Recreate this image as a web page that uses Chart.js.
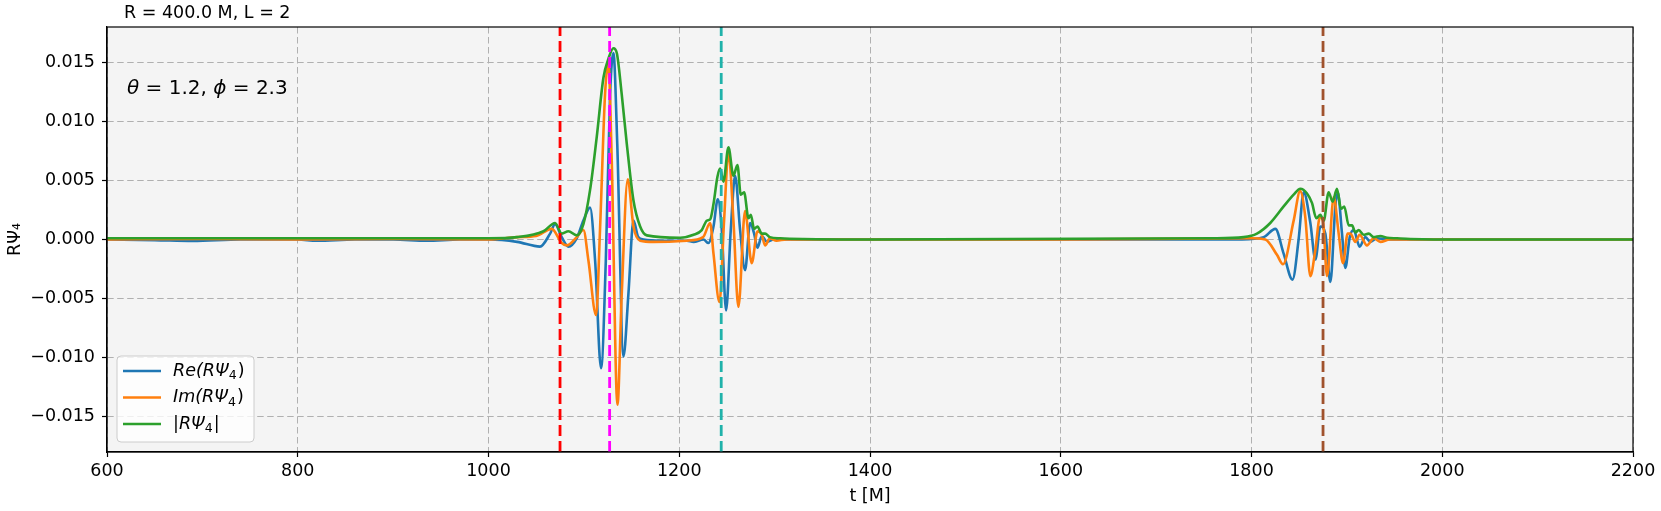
<!DOCTYPE html>
<html>
<head>
<meta charset="utf-8">
<script src="https://cdn.jsdelivr.net/npm/chart.js@4.4.1/dist/chart.umd.min.js"></script>
<style>
  html, body { margin: 0; padding: 0; background: #fff; }
  canvas { display: block; }
</style>
</head>
<body>
<canvas id="myChart" width="1661" height="511"></canvas>
<script>
// Re(R Psi4)
const reT = [600, 650, 690, 740, 800, 820, 860, 900, 935, 970, 1000, 1030, 1054, 1064.6, 1069.8, 1076.8, 1083.8, 1092.5, 1099.5, 1106.5, 1111.8, 1118, 1123, 1127.5, 1131, 1135, 1141.5, 1146.7, 1152, 1157, 1162.5, 1180, 1208, 1215, 1225.4, 1230.6, 1235.9, 1240.4, 1244.6, 1249.1, 1254, 1258.6, 1263.8, 1269, 1274.3, 1278.5, 1282, 1286.5, 1292, 1299, 1320, 1600, 1790, 1812.7, 1825, 1833.7, 1843, 1849.4, 1854.7, 1861.7, 1867, 1872.2, 1877.4, 1882.7, 1887.9, 1890.4, 1894.9, 1898.4, 1903, 1907.1, 1913.4, 1919.4, 1924.6, 1931.6, 1945, 2200];
const reV = [0, -0.00005, -0.00012, 0, 0, -0.0001, 0, 0, -0.0001, 0, 0, -0.0002, -0.0006, 0.0005, 0.0013, 0.0002, -0.0006, 0.0001, 0.0016, 0.0027, -0.0018, -0.0109, -0.0018, 0.0123, 0.0158, 0.0081, -0.0099, -0.0046, 0.0016, 0.0002, 0, -0.0001, -0.0001, -0.0002, 0, -0.0003, 0.0011, 0.0034, 0.0008, -0.006, 0.0008, 0.0054, 0.0008, -0.0026, 0.0014, 0.0005, -0.0007, 0.0003, -0.0002, 0, 0, 0, 0, 0.0002, 0.0009, -0.0012, -0.0034, 0, 0.004, 0.0014, -0.0017, 0.0011, 0.0005, -0.0036, 0.0028, 0.004, 0.0005, -0.0024, 0.0002, 0.0008, -0.0006, 0.0002, -0.0002, 0.0001, 0, 0];

// Im(R Psi4)
const imT = [600, 700, 800, 900, 1000, 1030, 1050, 1066.3, 1076.8, 1082, 1092.5, 1099.5, 1104.8, 1112.8, 1117, 1122.2, 1125.7, 1129.2, 1135.2, 1139.7, 1146, 1152, 1159, 1173, 1208, 1225, 1232.4, 1235.9, 1242.2, 1247, 1251.6, 1256.8, 1262, 1269, 1276, 1282, 1286.5, 1290, 1295, 1302, 1312, 1600, 1800, 1814.5, 1826.7, 1833, 1844.2, 1851, 1856.4, 1861.7, 1866.9, 1871.8, 1875, 1879.2, 1886.2, 1891.4, 1896, 1900.8, 1903.6, 1908.9, 1913.4, 1921.1, 1928.1, 1935.1, 1945, 2200];
const imV = [0, 0.00005, 0, 0.00005, 0, 0.0002, 0.0003, 0.0009, -0.0003, -0.0005, 0.0002, 0.0008, -0.0018, -0.0064, 0.001, 0.0123, 0.0149, 0.0067, -0.014, -0.0046, 0.0051, 0.0011, -0.0001, -0.0002, -0.0001, 0.0002, 0.0014, -0.0012, -0.0053, 0.0016, 0.0074, 0.0016, -0.0057, 0.0024, -0.002, 0.0007, 0.0004, -0.0005, 0.0001, -0.0001, 0, 0, 0.0001, 0, -0.0013, -0.0021, 0.0016, 0.0041, 0.0019, -0.0031, -0.0009, 0.0019, 0.0015, -0.0031, 0.0036, 0.0005, -0.002, 0.0005, 0.0005, -0.0002, 0.0004, -0.0005, 0.0001, -0.0002, 0, 0];

// |R Psi4|
const absT = [600, 1000, 1030, 1057.6, 1069.8, 1076.8, 1083.8, 1092.5, 1099.5, 1106.5, 1113.5, 1120.5, 1125.7, 1131, 1134.5, 1139.7, 1145, 1152, 1159, 1166, 1201, 1215, 1223.6, 1229, 1232.4, 1235.9, 1240, 1242.9, 1246.3, 1251.6, 1256.8, 1261, 1264.5, 1268, 1272.6, 1275, 1278.5, 1282, 1286.5, 1290, 1295, 1306, 1330, 1400, 1760, 1791.8, 1805.7, 1819.7, 1833.7, 1844.2, 1851.2, 1858.2, 1863.4, 1868, 1872.2, 1875.7, 1880.9, 1885.1, 1889.6, 1893.9, 1897.3, 1901.9, 1905.4, 1908.9, 1912.4, 1917.6, 1922.9, 1928.1, 1935.1, 1942.1, 1952.6, 1966.6, 1991, 2200];
const absV = [0.0001, 0.0001, 0.0002, 0.0007, 0.0014, 0.0005, 0.0007, 0.00035, 0.0013, 0.0042, 0.0087, 0.0137, 0.0153, 0.0162, 0.0158, 0.0123, 0.0081, 0.0033, 0.0011, 0.00035, 0.00015, 0.0004, 0.0008, 0.0016, 0.0017, 0.003, 0.0053, 0.006, 0.0049, 0.0078, 0.0054, 0.0063, 0.0038, 0.004, 0.0018, 0.0021, 0.0009, 0.0011, 0.0005, 0.0005, 0.0002, 0.0001, 0.00004, 0, 0.0001, 0.0002, 0.0005, 0.0014, 0.0028, 0.0038, 0.0043, 0.0039, 0.0031, 0.0018, 0.0021, 0.0016, 0.004, 0.0032, 0.0043, 0.0026, 0.0028, 0.0012, 0.0012, 0.0006, 0.0008, 0.0004, 0.0005, 0.0002, 0.0003, 0.00015, 0.0001, 0.00004, 0, 0];

// vertical markers
const markerTimes = [1075, 1127, 1244, 1875];
const markerColors = ['#ff0000', '#ff00ff', '#20b2aa', '#a0522d'];

const xTicks = [600, 800, 1000, 1200, 1400, 1600, 1800, 2000, 2200];
const yTicks = [-0.015, -0.01, -0.005, 0, 0.005, 0.01, 0.015];
const yMin = -0.018, yMax = 0.018;

const plotTitle = 'R = 400.0 M, L = 2';
const legendNames = [['Re(RΨ', '4', ')'], ['Im(RΨ', '4', ')'], ['|RΨ', '4', '|']];
const seriesColors = ['#1f77b4', '#ff7f0e', '#2ca02c'];

Chart.defaults.font.family = '"DejaVu Sans"';
Chart.defaults.font.size = 17.5;

const pairs = (ts, vs) => ts.map((t, i) => ({x: t, y: vs[i]}));

function drawRuns(ctx, runs, x, y, size) {
  runs.forEach(r => {
    ctx.font = (r.i ? 'italic ' : '') + size + 'px "DejaVu Sans"';
    ctx.fillText(r.t, x, y);
    x += ctx.measureText(r.t).width;
  });
}

const framePlugin = {
  id: 'frame',
  beforeDraw(chart) {
    const {ctx, chartArea: a} = chart;
    ctx.save();
    ctx.fillStyle = '#fff';
    ctx.fillRect(0, 0, chart.width, chart.height);
    ctx.fillStyle = '#f4f4f4';
    ctx.fillRect(a.left, a.top, a.right - a.left, a.bottom - a.top);
    ctx.restore();
  },
  afterDraw(chart) {
    const {ctx, chartArea: a} = chart;
    ctx.save();
    ctx.strokeStyle = '#000';
    ctx.lineWidth = 1.2;
    ctx.strokeRect(a.left, a.top, a.right - a.left, a.bottom - a.top);

    ctx.fillStyle = '#000';
    ctx.textBaseline = 'middle';
    ctx.font = '17.5px "DejaVu Sans"';
    ctx.fillText(plotTitle, a.left + 17, 13);

    drawRuns(ctx, [{t: 'θ', i: true}, {t: ' = 1.2, '}, {t: 'ϕ', i: true}, {t: ' = 2.3'}], a.left + 20, a.top + 62, 20);

    // legend box
    const bx = a.left + 10, by = a.bottom - 96, bw = 137, bh = 86;
    ctx.beginPath();
    ctx.roundRect(bx, by, bw, bh, 4);
    ctx.fillStyle = 'rgba(255,255,255,0.8)';
    ctx.fill();
    ctx.strokeStyle = '#cccccc';
    ctx.lineWidth = 1;
    ctx.stroke();
    legendNames.forEach((parts, i) => {
      const ly = by + 15 + i * 26.5;
      ctx.strokeStyle = seriesColors[i];
      ctx.lineWidth = 2.6;
      ctx.beginPath();
      ctx.moveTo(bx + 6, ly);
      ctx.lineTo(bx + 44, ly);
      ctx.stroke();
      ctx.fillStyle = '#000';
      let tx = bx + 56;
      ctx.font = 'italic 17.5px "DejaVu Sans"';
      ctx.fillText(parts[0], tx, ly);
      tx += ctx.measureText(parts[0]).width;
      ctx.font = '12.5px "DejaVu Sans"';
      ctx.fillText(parts[1], tx, ly + 5);
      tx += ctx.measureText(parts[1]).width + 1;
      ctx.font = '17.5px "DejaVu Sans"';
      ctx.fillText(parts[2], tx, ly);
    });
    ctx.restore();
  }
};

const markerSets = markerTimes.map((t, i) => ({
  data: [{x: t, y: yMin}, {x: t, y: yMax}],
  borderColor: markerColors[i],
  borderWidth: 2.8,
  borderDash: [11, 5],
  order: 0
}));

const ctx = document.getElementById('myChart').getContext('2d');
new Chart(ctx, {
  type: 'line',
  data: {
    datasets: [
      ...markerSets,
      { label: '|RΨ4|', data: pairs(absT, absV), borderColor: seriesColors[2], borderWidth: 2.6, cubicInterpolationMode: 'monotone', order: 1 },
      { label: 'Im(RΨ4)', data: pairs(imT, imV), borderColor: seriesColors[1], borderWidth: 2.6, cubicInterpolationMode: 'monotone', order: 2 },
      { label: 'Re(RΨ4)', data: pairs(reT, reV), borderColor: seriesColors[0], borderWidth: 2.6, cubicInterpolationMode: 'monotone', order: 3 }
    ]
  },
  options: {
    responsive: false,
    animation: false,
    devicePixelRatio: 1,
    layout: { padding: { left: 0, right: 28, top: 27, bottom: 0 } },
    elements: { point: { radius: 0 }, line: { fill: false } },
    plugins: { legend: { display: false }, tooltip: { enabled: false }, title: { display: false } },
    scales: {
      x: {
        type: 'linear', min: xTicks[0], max: xTicks[xTicks.length - 1],
        afterFit: s => { s.height = 59; },
        afterBuildTicks: s => { s.ticks = xTicks.map(v => ({value: v})); },
        ticks: { color: '#000', padding: 4, maxRotation: 0, autoSkip: false, callback: v => String(v) },
        grid: { color: '#b0b0b0', lineWidth: 1, tickLength: 5, tickColor: '#000', tickWidth: 1.2 },
        border: { color: '#000', width: 1.2, dash: [6.5, 3.5] },
        title: { display: true, text: 't [M]', color: '#000', padding: { top: 0, bottom: 4 } }
      },
      y: {
        type: 'linear', min: yMin, max: yMax,
        afterFit: s => { s.width = 107; },
        afterBuildTicks: s => { s.ticks = yTicks.map(v => ({value: v})); },
        ticks: { color: '#000', padding: 7, autoSkip: false,
          callback: v => (Math.abs(v) < 1e-9 ? 0 : v).toFixed(3).replace('-', '\u2212') },
        grid: { color: '#b0b0b0', lineWidth: 1, tickLength: 5, tickColor: '#000', tickWidth: 1.2 },
        border: { color: '#000', width: 1.2, dash: [6.5, 3.5] },
        title: { display: true, text: 'RΨ₄', color: '#000', padding: { top: 5, bottom: 0 } }
      }
    }
  },
  plugins: [framePlugin]
});
</script>
</body>
</html>
